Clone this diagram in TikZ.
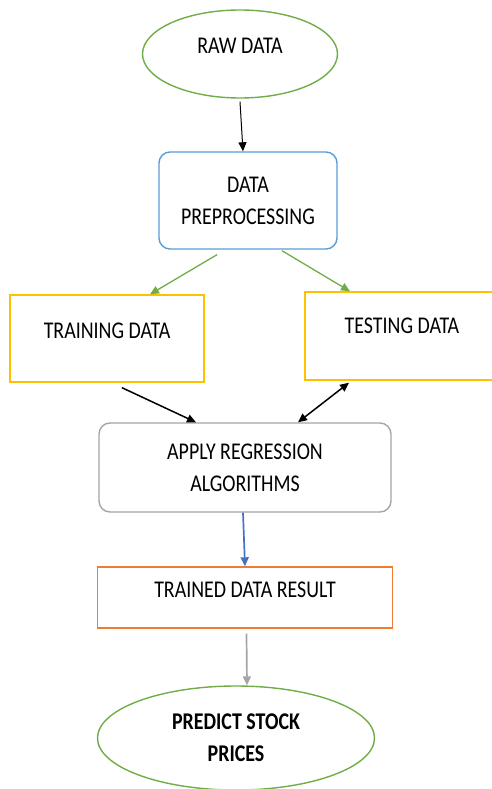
\documentclass[tikz,border=0pt]{standalone}
\usepackage{fontspec}
\setmainfont{Carlito}[FakeStretch=0.83]
\usetikzlibrary{positioning, arrows.meta, shapes.geometric}
\definecolor{ovalgreen}{HTML}{70AD47}
\definecolor{prepblue}{HTML}{5B9BD5}
\definecolor{datayellow}{HTML}{FFC000}
\definecolor{resultorange}{HTML}{ED7D31}
\definecolor{algogray}{HTML}{A5A5A5}
\definecolor{linkblue}{HTML}{4472C4}
\tikzset{
    box/.style={draw, rectangle, line width=1.4pt, align=center, font=\fontsize{24}{32}\selectfont},
    oval/.style={draw=ovalgreen, ellipse, line width=1.4pt, inner sep=0pt, align=center, font=\fontsize{24}{32}\selectfont},
    lifted/.style={text depth=16pt},
    link/.style={-{Triangle[length=9pt,width=8pt]}, line width=1.3pt},
    twolink/.style={{Triangle[length=9pt,width=8pt]}-{Triangle[length=9pt,width=8pt]}, line width=1.5pt}
}

\begin{document}
\begin{tikzpicture}[x=1pt, y=-1pt, on grid]
      \useasboundingbox (0,0) rectangle (491,789);
      \node[oval, lifted, minimum width=195pt, minimum height=88pt] (raw) at (240,54) {RAW DATA};
      \node[box, draw=prepblue, rounded corners=11pt, minimum width=178pt, minimum height=97pt] (prep) [below right = 146.5pt and 8pt of raw] {DATA\\PREPROCESSING};
      \node[box, lifted, draw=datayellow, minimum width=194pt, minimum height=87pt] (train) [below left = 138pt and 141pt of prep] {TRAINING DATA};
      \node[box, lifted, draw=datayellow, minimum width=194pt, minimum height=88pt, text depth=20pt] (test) [below right = 135.5pt and 154pt of prep] {TESTING DATA};
      \node[box, draw=algogray, rounded corners=11pt, minimum width=292pt, minimum height=89pt] (apply) [below right = 129pt and 138pt of train] {APPLY REGRESSION\\ALGORITHMS};
      \node[box, lifted, draw=resultorange, minimum width=295pt, minimum height=61pt, text depth=15pt] (result) [below = 130pt of apply] {TRAINED DATA RESULT};
      \node[oval, minimum width=277pt, minimum height=104pt, font=\fontsize{24}{32}\selectfont\bfseries] (predict) [below left = 140.5pt and 9pt of result] {PREDICT STOCK\\PRICES};

      \draw[link, line width=1pt] ([yshift=-3pt]raw.south) -- ([xshift=-5pt]prep.north);
      \draw[link, ovalgreen] ([xshift=-31pt, yshift=-5pt]prep.south) -- ([xshift=43pt]train.north);
      \draw[link, ovalgreen] ([xshift=34pt, yshift=-1pt]prep.south) -- ([xshift=-52pt]test.north);
      \draw[link, line width=1.5pt] ([xshift=15pt, yshift=-5pt]train.south) -- ([xshift=-49pt]apply.north);
      \draw[twolink] ([xshift=-53pt, yshift=-2pt]test.south) -- ([xshift=53pt]apply.north);
      \draw[link, linkblue, line width=1.7pt] ([xshift=-2pt]apply.south) -- (result.north);
      \draw[link, algogray, line width=1.7pt] ([xshift=1.5pt, yshift=-5pt]result.south) -- ([xshift=11pt]predict.north);
\end{tikzpicture}
\end{document}
